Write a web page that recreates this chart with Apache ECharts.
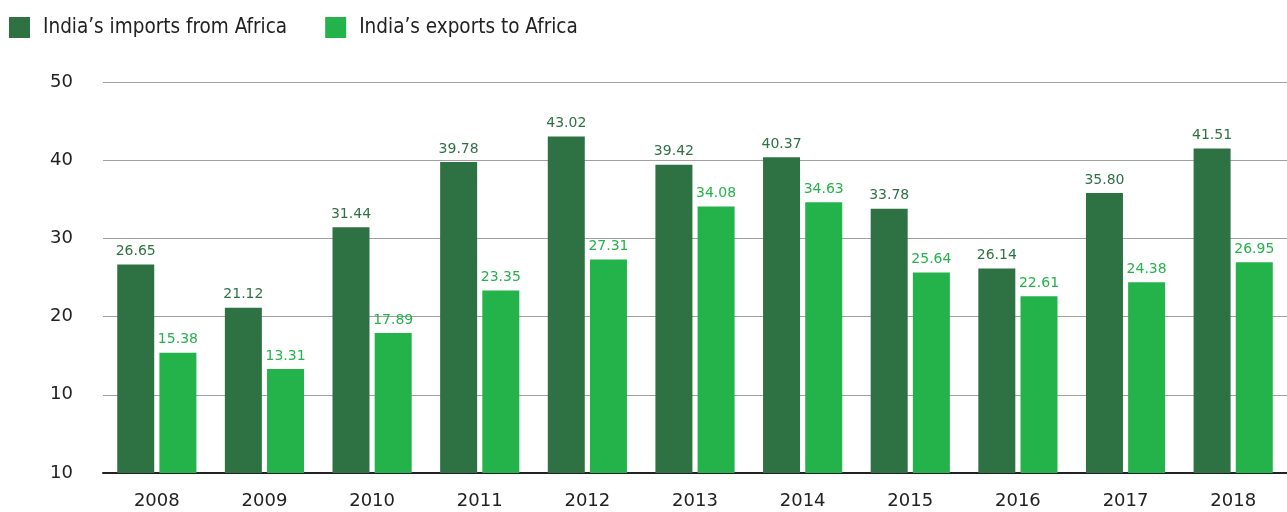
<!DOCTYPE html>
<html lang="en">
<head>
    <meta charset="UTF-8">
    <title>India-Africa trade</title>
    <script src="https://cdn.jsdelivr.net/npm/echarts@6/dist/echarts.min.js"></script>
</head>
<body style="margin:0;">
<div id="main" style="height:512px;width:1287px;"></div>
<script>

var years = ['2008','2009','2010','2011','2012','2013','2014','2015','2016','2017','2018'];
var imports = [26.65, 21.12, 31.44, 39.78, 43.02, 39.42, 40.37, 33.78, 26.14, 35.80, 41.51];
var exports = [15.38, 13.31, 17.89, 23.35, 27.31, 34.08, 34.63, 25.64, 22.61, 24.38, 26.95];
var yTicks = ['10', '10', '20', '30', '40', '50'];   // bottom label reads "10" in the source

var myChart = echarts.init(document.getElementById('main'));

var font = 'DejaVu Sans';

var option = {
    color: ['#2e7244', '#24b24b'],
    legend: {
        left: 9,
        top: 17,
        padding: 0,
        itemWidth: 21,
        itemHeight: 21,
        itemGap: 38,
        icon: 'rect',
        textStyle: { fontFamily: 'DejaVu Sans Condensed', fontSize: 20.5, color: '#222', padding: [0, 0, 0, 8] },
        data: ["India\u2019s imports from Africa", "India\u2019s exports to Africa"]
    },
    grid: {
        left: 103,
        right: 0,
        top: 82,
        bottom: 39
    },
    xAxis: {
        type: 'category',
        data: years,
        axisTick: { show: false },
        axisLine: { lineStyle: { color: '#222', width: 2 } },
        axisLabel: { fontFamily: font, fontSize: 18, color: '#222', margin: 19 }
    },
    yAxis: {
        type: 'value',
        min: 0,
        max: 50,
        interval: 10,
        axisLabel: {
            fontFamily: font, fontSize: 18, color: '#222', margin: 30,
            formatter: function (v) { return yTicks[Math.round(v / 10)]; }
        },
        splitLine: { lineStyle: { color: '#a0a0a0', width: 1 } }
    },
    series: [
        {
            name: "India\u2019s imports from Africa",
            type: 'bar',
            data: imports,
            barWidth: 37,
            barGap: '14%',
            label: {
                show: true, position: 'top', distance: 6,
                fontFamily: font, fontSize: 14, color: '#2e7244',
                formatter: function (p) { return p.value.toFixed(2); }
            }
        },
        {
            name: "India\u2019s exports to Africa",
            type: 'bar',
            data: exports,
            barWidth: 37,
            label: {
                show: true, position: 'top', distance: 6,
                fontFamily: font, fontSize: 14, color: '#24b24b',
                formatter: function (p) { return p.value.toFixed(2); }
            }
        }
    ]
};

myChart.setOption(option);
</script>
</body>
</html>
